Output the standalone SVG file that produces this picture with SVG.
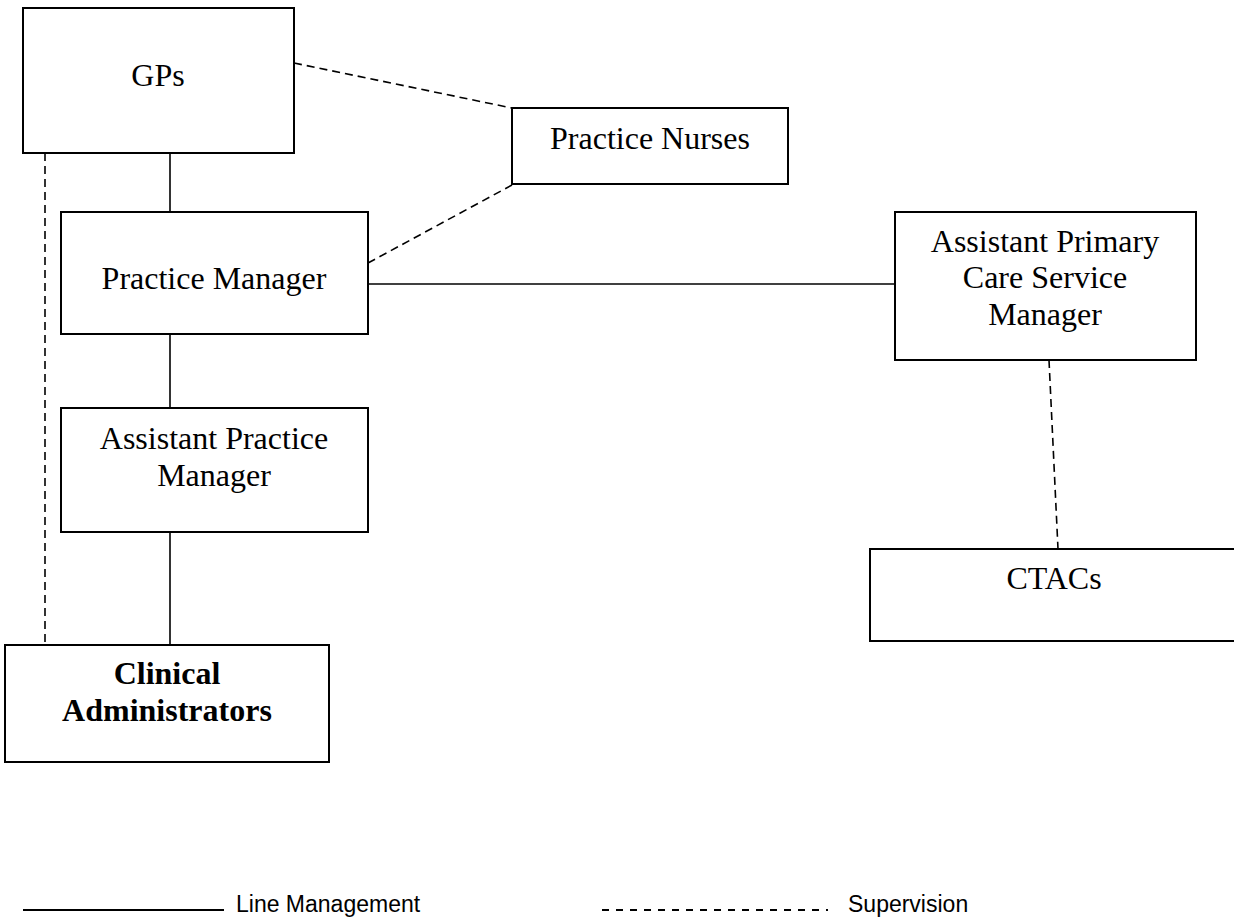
<svg xmlns="http://www.w3.org/2000/svg" width="1234" height="918" viewBox="0 0 1234 918">
<style>
.box{fill:#fff;stroke:#000;stroke-width:2}
.t{font-family:"Liberation Serif","Times New Roman",serif;font-size:32px;fill:#000;text-anchor:middle}
.b{font-weight:bold}
.solid{stroke:#000;stroke-width:1.6;fill:none}
.dash{stroke:#000;stroke-width:1.6;fill:none;stroke-dasharray:8 5}
.leg{font-family:"Liberation Sans",Arial,sans-serif;font-size:23px;fill:#000}
</style>
<rect width="1234" height="918" fill="#fff"/>
<g id="connectors">
<line class="solid" x1="170" y1="153" x2="170" y2="212"/>
<line class="solid" x1="170" y1="334" x2="170" y2="408"/>
<line class="solid" x1="170" y1="532" x2="170" y2="645"/>
<line class="solid" x1="368" y1="284" x2="895" y2="284"/>
<line class="dash" x1="45" y1="153" x2="45" y2="645"/>
<line class="dash" x1="294" y1="63" x2="512" y2="108"/>
<line class="dash" x1="368" y1="263" x2="512" y2="185"/>
<line class="dash" x1="1049" y1="360" x2="1058" y2="549"/>
</g>
<g id="gps">
<rect class="box" x="23" y="8" width="271" height="145"/>
<text class="t" x="158" y="86">GPs</text>
</g>
<g id="practice-nurses">
<rect class="box" x="512" y="108" width="276" height="76"/>
<text class="t" x="650" y="149">Practice Nurses</text>
</g>
<g id="practice-manager">
<rect class="box" x="61" y="212" width="307" height="122"/>
<text class="t" x="214" y="289">Practice Manager</text>
</g>
<g id="apcsm">
<rect class="box" x="895" y="212" width="301" height="148"/>
<text class="t" x="1045" y="252">Assistant Primary</text>
<text class="t" x="1045" y="288">Care Service</text>
<text class="t" x="1045" y="325">Manager</text>
</g>
<g id="apm">
<rect class="box" x="61" y="408" width="307" height="124"/>
<text class="t" x="214" y="449">Assistant Practice</text>
<text class="t" x="214" y="486">Manager</text>
</g>
<g id="ctacs">
<path class="box" d="M1236,549 H870 V641 H1236"/>
<text class="t" x="1054" y="589">CTACs</text>
</g>
<g id="clinical-admin">
<rect class="box" x="5" y="645" width="324" height="117"/>
<text class="t b" x="167" y="684">Clinical</text>
<text class="t b" x="167" y="721">Administrators</text>
</g>
<g id="legend">
<line x1="23" y1="910" x2="224" y2="910" stroke="#000" stroke-width="2"/>
<text class="leg" x="236" y="912">Line Management</text>
<line x1="602" y1="910" x2="828" y2="910" stroke="#000" stroke-width="1.8" stroke-dasharray="7 7"/>
<text class="leg" x="848" y="912">Supervision</text>
</g>
</svg>
